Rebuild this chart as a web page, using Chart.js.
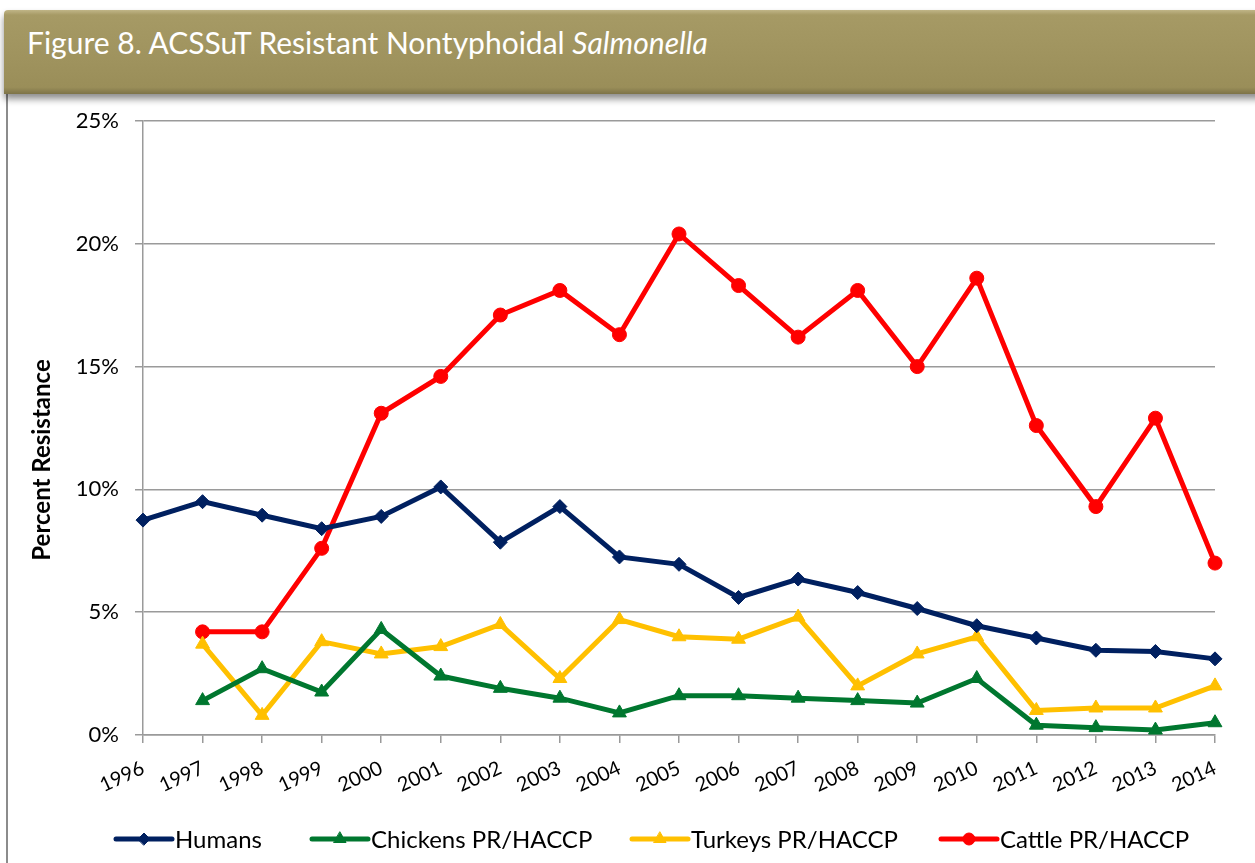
<!DOCTYPE html>
<html>
<head>
<meta charset="utf-8">
<script src="https://cdn.jsdelivr.net/npm/chart.js@4.4.0/dist/chart.umd.min.js"></script>
<style>
	html, body { margin: 0; padding: 0; background: #fff; }
	body { width: 1255px; height: 863px; position: relative; overflow: hidden; font-family: Lato, sans-serif; }
	#panel { position: absolute; left: 6px; top: 92px; width: 1260px; height: 780px; border-left: 2px solid #8c8c8c; border-top: 1px solid #bbb; }
	#banner {
		position: absolute; left: 4px; top: 10px; width: 1260px; height: 84px;
		background: linear-gradient(to bottom, #c0b587 0%, #a69a65 6%, #a0945f 50%, #9a8e59 92%, #7d7348 100%);
		box-shadow: 0 5px 7px rgba(0,0,0,0.45);
		border-top-left-radius: 4px;
	}
	#banner span { position: absolute; left: 23px; top: 14px; color: #fff; font-size: 30px; white-space: nowrap; }
	#wrap { position: absolute; left: 8px; top: 100px; width: 1247px; height: 763px; }
</style>
</head>
<body>
<div id="panel"></div>
<div id="banner"><span>Figure 8. ACSSuT Resistant Nontyphoidal <i>Salmonella</i></span></div>
<div id="wrap"><canvas id="lineChart"></canvas></div>
<script>
const years = ['1996', '1997', '1998', '1999', '2000', '2001', '2002', '2003', '2004', '2005',
	'2006', '2007', '2008', '2009', '2010', '2011', '2012', '2013', '2014'];
const humans = [8.75, 9.5, 8.95, 8.4, 8.9, 10.1, 7.85, 9.3, 7.25, 6.95, 5.6, 6.35, 5.8, 5.15, 4.45, 3.95, 3.45, 3.4, 3.1];
const chickens = [null, 1.4, 2.7, 1.75, 4.3, 2.4, 1.9, 1.5, 0.9, 1.6, 1.6, 1.5, 1.4, 1.3, 2.3, 0.4, 0.3, 0.2, 0.5];
const turkeys = [null, 3.7, 0.8, 3.8, 3.3, 3.6, 4.5, 2.3, 4.7, 4.0, 3.9, 4.8, 2.0, 3.3, 4.0, 1.0, 1.1, 1.1, 2.0];
const cattle = [null, 4.2, 4.2, 7.6, 13.1, 14.6, 17.1, 18.1, 16.3, 20.4, 18.3, 16.2, 18.1, 15.0, 18.6, 12.6, 9.3, 12.9, 7.0];
const yTicks = [0, 5, 10, 15, 20, 25];
const yTitle = 'Percent Resistance';

const font = 'Lato, sans-serif';
const legendX = [108, 304, 624, 933];

// legend drawn as line + marker like the original, plus the y title
const extras = {
	id: 'extras',
	afterDraw(chart) {
		const ctx = chart.ctx;
		const y = 739;
		ctx.save();
		ctx.font = '24px ' + font;
		ctx.textBaseline = 'middle';
		chart.data.datasets.forEach(function (ds, i) {
			const x = legendX[i];
			ctx.strokeStyle = ds.borderColor;
			ctx.lineWidth = 5;
			ctx.lineCap = 'round';
			ctx.beginPath();
			ctx.moveTo(x, y);
			ctx.lineTo(x + 56, y);
			ctx.stroke();
			ctx.fillStyle = ds.borderColor;
			ctx.strokeStyle = ds.borderColor;
			ctx.lineWidth = 1;
			Chart.helpers.drawPoint(ctx, {
				pointStyle: ds.pointStyle, radius: ds.pointRadius - 1, borderWidth: 1
			}, x + 28, y);
			ctx.fillStyle = '#000';
			ctx.fillText(ds.label, x + 59, y + 1);
		});

		ctx.font = 'bold 24px ' + font;
		ctx.textAlign = 'center';
		ctx.translate(34, 360);
		ctx.rotate(-Math.PI / 2);
		ctx.fillText(yTitle, 0, 0);
		ctx.restore();
	}
};

function makeSet(label, data, color, style, radius) {
	return {
		label: label,
		data: data,
		borderColor: color,
		backgroundColor: color,
		pointBackgroundColor: color,
		pointBorderColor: color,
		pointStyle: style,
		pointRadius: radius,
		pointBorderWidth: 1,
		borderWidth: 5,
		tension: 0,
		spanGaps: false
	};
}

new Chart(document.getElementById('lineChart'), {
	type: 'line',
	data: {
		labels: years,
		datasets: [
			makeSet('Humans', humans, '#002060', 'rectRot', 7),
			makeSet('Chickens PR/HACCP', chickens, '#00772F', 'triangle', 8),
			makeSet('Turkeys PR/HACCP', turkeys, '#FFC000', 'triangle', 8),
			makeSet('Cattle PR/HACCP', cattle, '#FF0000', 'circle', 7)
		]
	},
	options: {
		responsive: true,
		maintainAspectRatio: false,
		animation: false,
		layout: { padding: { top: 21, right: 40, left: 0, bottom: 58 } },
		plugins: {
			legend: { display: false },
			tooltip: { enabled: false }
		},
		scales: {
			x: {
				offset: false,
				grid: { drawOnChartArea: false, color: '#9a9a9a', lineWidth: 1.5, tickLength: 8 },
				border: { color: '#9a9a9a', width: 1.5 },
				ticks: {
					color: '#000', font: { family: font, size: 20 },
					minRotation: 25, maxRotation: 25, autoSkip: false, padding: 13
				},
				afterFit: function (s) { s.height = 70; }
			},
			y: {
				min: 0, max: 25,
				afterBuildTicks: function (s) { s.ticks = yTicks.map(v => ({ value: v })); },
				grid: { color: '#9a9a9a', lineWidth: 1.5, tickLength: 8 },
				border: { color: '#9a9a9a', width: 1.5 },
				ticks: {
					color: '#000', font: { family: font, size: 22 }, padding: 16,
					callback: function (v) { return v + '%'; }
				},
				afterFit: function (s) {
					s.width = 135;
					s.paddingTop = 0;
					s.paddingBottom = 0;
				}
			}
		}
	},
	plugins: [extras]
});
</script>
</body>
</html>
